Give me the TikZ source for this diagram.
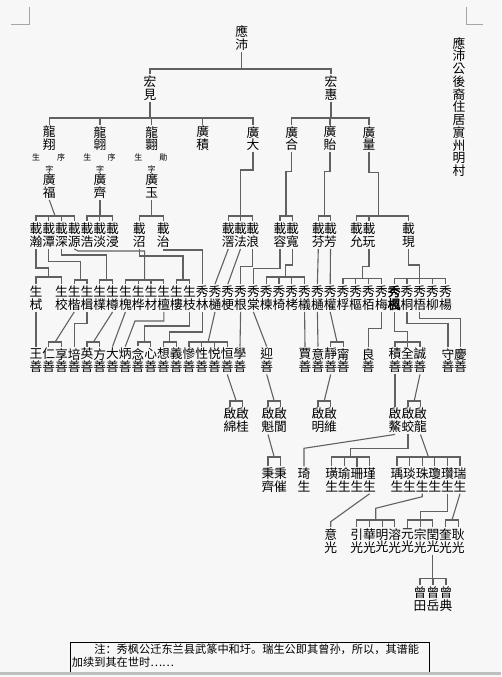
\documentclass[tikz,border=0pt]{standalone}
\usepackage{fontspec}
\newfontfamily\tcfont{Noto Sans CJK TC}
\newfontfamily\tcbold[FakeBold=2.5]{Noto Sans CJK TC}
\newfontfamily\scfont{Noto Sans CJK SC}
\definecolor{paper}{HTML}{F7F7F7}
\tikzset{
  ming/.style={font=\tcfont\fontsize{12.75}{12.75}\selectfont, align=center, inner sep=1.5pt},
  boldname/.style={font=\tcbold\fontsize{12.75}{12.75}\selectfont},
  small/.style={font=\tcfont\fontsize{8}{8}\selectfont, inner sep=0pt},
  link/.style={draw=black!62, line width=1.1pt},
}
\begin{document}
\begin{tikzpicture}[x=1pt,y=-1pt]
  \fill[paper] (0,0) rectangle (501,677);
  \useasboundingbox (0,0) rectangle (501,677);
  % corner marks
  \draw[black!35] (11,24) -- (29.3,24) -- (29.3,6.7);
  \draw[black!35] (483,24) -- (465.7,24) -- (465.7,6.7);
  % side title
  \node[ming] (title) at (459,107) {應\\沛\\公\\後\\裔\\住\\居\\賔\\州\\明\\村};
  % generation 1 and 2
  \node[ming] (yp) at (241.7,38) {應\\沛};
  \node[ming] (hj) at (150,88) {宏\\見};
  \node[ming] (hh) at (331,88) {宏\\惠};
  % generation 3
  \node[ming] (lx)  at (49.3,138.5)  {龍\\翔};
  \node[ming] (la)  at (100,138.5)   {龍\\翶};
  \node[ming] (lb)  at (151.7,138.5) {龍\\翾};
  \node[ming] (gji) at (202.7,138.5) {廣\\積};
  \node[ming] (gda) at (253,138.5)   {廣\\大};
  \node[ming] (ghe) at (291.7,138.5) {廣\\合};
  \node[ming] (gyi) at (330,138.5)   {廣\\貽};
  \node[ming] (gli) at (369,138.5)   {廣\\量};
  \node[small] (lxa) at (36,157.5)    {生};
  \node[small] (lxb) at (61,157.5)    {序};
  \node[small] (laa) at (87.3,157.5)  {生};
  \node[small] (lab) at (111.7,157.5) {序};
  \node[small] (lba) at (138.3,157.5) {生};
  \node[small] (lbb) at (163.3,157.5) {勛};
  \node[small] (zia) at (49.3,169.5)  {字};
  \node[small] (zib) at (100,169.5)   {字};
  \node[small] (zic) at (151.7,169.5) {字};
  \node[ming] (gfu) at (49.3,186)  {廣\\福};
  \node[ming] (gqi) at (100,186)   {廣\\齊};
  \node[ming] (gyu) at (151.7,186) {廣\\玉};
  % generation 4
  \node[ming] (zhan)  at (36,235)    {載\\瀚};
  \node[ming] (ztan)  at (48.75,235) {載\\潭};
  \node[ming] (zshen) at (61.5,235)  {載\\深};
  \node[ming] (zyuan) at (74.25,235) {載\\源};
  \node[ming] (zhao)  at (87,235)    {載\\浩};
  \node[ming] (zdan)  at (99.75,235) {載\\淡};
  \node[ming] (zjin)  at (112.5,235) {載\\浸};
  \node[ming] (zzhao) at (139.3,235) {載\\沼};
  \node[ming] (zzhi)  at (163.3,235) {載\\治};
  \node[ming] (zjiao) at (228.3,235) {載\\滘};
  \node[ming] (zfa)   at (240.5,235) {載\\法};
  \node[ming] (zlang) at (252.7,235) {載\\浪};
  \node[ming] (zrong) at (280,235)   {載\\容};
  \node[ming] (zkuan) at (292.5,235) {載\\寬};
  \node[ming] (zfen)  at (318.3,235) {載\\芬};
  \node[ming] (zfang) at (330.5,235) {載\\芳};
  \node[ming] (zyun)  at (356.5,235) {載\\允};
  \node[ming] (zwan)  at (369,235)   {載\\玩};
  \node[ming] (zxian) at (408.5,235) {載\\現};
  % generation 5
  \node[ming] (xshi)   at (36,298)    {生\\栻};
  \node[ming] (xxiao)  at (61.4,298)  {生\\校};
  \node[ming] (xkai)   at (74.2,298)  {生\\楷};
  \node[ming] (xji)    at (87,298)    {生\\楫};
  \node[ming] (xpu)    at (99.8,298)  {生\\檏};
  \node[ming] (xzun)   at (112.6,298) {生\\樽};
  \node[ming] (xhuai)  at (125.4,298) {生\\槐};
  \node[ming] (xhua)   at (138.2,298) {生\\桦};
  \node[ming] (xcai)   at (151,298)   {生\\材};
  \node[ming] (xtan)   at (163.8,298) {生\\檀};
  \node[ming] (xlou)   at (176.6,298) {生\\樓};
  \node[ming] (xzhi)   at (189.4,298) {生\\枝};
  \node[ming] (xlin)   at (202.2,298) {秀\\林};
  \node[ming] (xtonga) at (215,298)   {秀\\樋};
  \node[ming] (xgeng)  at (227.8,298) {秀\\梗};
  \node[ming] (xgen)   at (240.6,298) {秀\\根};
  \node[ming] (xtang)  at (253.4,298) {秀\\棠};
  \node[ming] (xlian)  at (266.2,298) {秀\\楝};
  \node[ming] (xyi)    at (279,298)   {秀\\椅};
  \node[ming] (xkao)   at (291.8,298) {秀\\栲};
  \node[ming] (xyii)   at (304.6,298) {秀\\檥};
  \node[ming] (xtongb) at (317.4,298) {秀\\樋};
  \node[ming] (xquan)  at (330.2,298) {秀\\權};
  \node[ming] (xfu)    at (343,298)   {秀\\桴};
  \node[ming] (xshu)   at (355.8,298) {秀\\樞};
  \node[ming] (xbai)   at (368.6,298) {秀\\栢};
  \node[ming] (xmei)   at (381.4,298) {秀\\梅};
  \node[ming,boldname] (xfeng) at (394.2,298) {秀\\楓};
  \node[ming] (xtongc) at (407,298)   {秀\\桐};
  \node[ming] (xwu)    at (419.8,298) {秀\\梧};
  \node[ming] (xliu)   at (432.6,298) {秀\\柳};
  \node[ming] (xyang)  at (445.4,298) {秀\\楊};
  % generation 6
  \node[ming] (swang)   at (36,360.5)    {王\\善};
  \node[ming] (sren)    at (48.75,360.5) {仁\\善};
  \node[ming] (sxiang)  at (61.5,360.5)  {享\\善};
  \node[ming] (spei)    at (74.25,360.5) {培\\善};
  \node[ming] (sying)   at (87,360.5)    {英\\善};
  \node[ming] (sfang)   at (99.75,360.5) {方\\善};
  \node[ming] (sda)     at (112.5,360.5) {大\\善};
  \node[ming] (sbing)   at (125.25,360.5){炳\\善};
  \node[ming] (snian)   at (138,360.5)   {念\\善};
  \node[ming] (sxin)    at (150.75,360.5){心\\善};
  \node[ming] (sxiangx) at (163.5,360.5) {想\\善};
  \node[ming] (syi)     at (176.25,360.5){義\\善};
  \node[ming] (scan)    at (189,360.5)   {慘\\善};
  \node[ming] (sxing)   at (201.75,360.5){性\\善};
  \node[ming] (syue)    at (214.5,360.5) {悦\\善};
  \node[ming] (sheng)   at (227.25,360.5){恒\\善};
  \node[ming] (sxue)    at (240,360.5)   {學\\善};
  \node[ming] (sying2)  at (266.7,360.5) {迎\\善};
  \node[ming] (sjia)    at (305,360.5)   {賈\\善};
  \node[ming] (syiy)    at (318,360.5)   {意\\善};
  \node[ming] (sjing)   at (330.7,360.5) {靜\\善};
  \node[ming] (sning)   at (343.3,360.5) {甯\\善};
  \node[ming] (sliang)  at (368.3,360.5) {良\\善};
  \node[ming] (sji)     at (395,360.5)   {積\\善};
  \node[ming] (squan)   at (407.5,360.5) {全\\善};
  \node[ming] (scheng)  at (420,360.5)   {誠\\善};
  \node[ming] (sshou)   at (448,360.5)   {守\\善};
  \node[ming] (sqing)   at (460.5,360.5) {慶\\善};
  % generation 7
  \node[ming] (qmian) at (230,420.5)   {啟\\綿};
  \node[ming] (qgui)  at (242.5,420.5) {啟\\桂};
  \node[ming] (qkui)  at (268,420.5)   {啟\\魁};
  \node[ming] (qlang) at (280.5,420.5) {啟\\閬};
  \node[ming] (qming) at (318,420.5)   {啟\\明};
  \node[ming] (qwei)  at (330.5,420.5) {啟\\維};
  \node[ming] (qao)   at (395,420.5)   {啟\\鰲};
  \node[ming] (qjiao) at (408,420.5)   {啟\\蛟};
  \node[ming] (qlong) at (420.5,420.5) {啟\\龍};
  % generation 8
  \node[ming] (bqia)  at (268,480)   {秉\\齊};
  \node[ming] (bcui)  at (280.5,480) {秉\\催};
  \node[ming] (bqi)   at (304,480)   {琦\\生};
  \node[ming] (bhuang) at (331.7,480) {璜\\生};
  \node[ming] (byu)   at (344.3,480) {瑜\\生};
  \node[ming] (bshan) at (357,480)   {珊\\生};
  \node[ming] (bjin)  at (369.6,480) {瑾\\生};
  \node[ming] (byu2)  at (397,480)   {瑀\\生};
  \node[ming] (byan)  at (409.6,480) {琰\\生};
  \node[ming] (bzhu)  at (422.2,480) {珠\\生};
  \node[ming] (bqiong) at (434.8,480) {瓊\\生};
  \node[ming] (bzan)  at (447.4,480) {瓚\\生};
  \node[ming] (brui)  at (460,480)   {瑞\\生};
  % generation 9
  \node[ming] (kyi)   at (330.7,541) {意\\光};
  \node[ming] (kyin)  at (356.7,541) {引\\光};
  \node[ming] (khua)  at (369.4,541) {華\\光};
  \node[ming] (kming) at (382.1,541) {明\\光};
  \node[ming] (krong) at (394.8,541) {溶\\光};
  \node[ming] (kyuan) at (407.5,541) {元\\光};
  \node[ming] (kzong) at (420.2,541) {宗\\光};
  \node[ming] (krun)  at (432.9,541) {閏\\光};
  \node[ming] (kkui)  at (445.6,541) {奎\\光};
  \node[ming] (kgeng) at (458.3,541) {耿\\光};
  % generation 10
  \node[ming] (ctian) at (420,599) {曾\\田};
  \node[ming] (cyue)  at (433,599) {曾\\岳};
  \node[ming] (cdian) at (446,599) {曾\\典};

  % links, top part
  \draw[link] (yp.south) -- (yp.south |- 0,69);
  \draw[link] (hj.north) |- (hh.north |- 0,69) -- (hh.north);
  \draw[link] (hj.south) -- (hj.south |- 0,118);
  \draw[link] (lx.north) |- (gda.north |- 0,118) -- (gda.north);
  \foreach \c in {la,lb,gji} \draw[link] (\c.north) -- (\c.north |- 0,118);
  \draw[link] (hh.south) -- (hh.south |- 0,118);
  \draw[link] (ghe.north) |- (gli.north |- 0,118) -- (gli.north);
  \draw[link] (gyi.north) -- (gyi.north |- 0,118);
  % links to generation 4
  \draw[link] (gfu.south) -- (55.1,216);
  \draw[link] (zhan.north) |- (zyuan.north |- 0,216) -- (zyuan.north);
  \foreach \c in {ztan,zshen} \draw[link] (\c.north) -- (\c.north |- 0,216);
  \draw[link] (gqi.south) -- (gqi.south |- 0,216);
  \draw[link] (zhao.north) |- (zjin.north |- 0,216) -- (zjin.north);
  \draw[link] (zdan.north) -- (zdan.north |- 0,216);
  \draw[link] (gyu.south) -- (gyu.south |- 0,216);
  \draw[link] (zzhao.north) |- (zzhi.north |- 0,216) -- (zzhi.north);
  \draw[link] (gda.south) -- (gda.south |- 0,170) -| (zfa.north |- 0,216);
  \draw[link] (zjiao.north) |- (zlang.north |- 0,216) -- (zlang.north);
  \draw[link] (zfa.north) -- (zfa.north |- 0,216);
  \draw[link] (ghe.south) |- (286,171.7) -- (286,216);
  \draw[link] (zrong.north) |- (zkuan.north |- 0,216) -- (zkuan.north);
  \draw[link] (gyi.south) |- (324.4,171.7) -- (324.4,216);
  \draw[link] (zfen.north) |- (zfang.north |- 0,216) -- (zfang.north);
  \draw[link] (gli.south) |- (378.3,172.7) -- (378.3,216);
  \draw[link] (zyun.north) |- (zxian.north |- 0,216) -- (zxian.north);
  \draw[link] (zwan.north) -- (zwan.north |- 0,216);
  % links to generation 5
  \draw[link] (zhan.south) |- (48.7,268) -- (48.7,277);
  \draw[link] (xshi.north) |- (xxiao.north |- 0,277) -- (xxiao.north);
  \draw[link] (ztan.south) |- (80.6,261.7) -- (80.6,280);
  \draw[link] (xkai.north) |- (xji.north |- 0,280) -- (xji.north);
  \draw[link] (zshen.south) |- (106.2,255) -- (106.2,280);
  \draw[link] (xpu.north) |- (xzun.north |- 0,280) -- (xzun.north);
  \draw[link] (zyuan.south) -- (78,251) -- (144.6,251) -- (144.6,280);
  \draw[link] (xhuai.north) |- (xtan.north |- 0,280) -- (xtan.north);
  \foreach \c in {xhua,xcai} \draw[link] (\c.north) -- (\c.north |- 0,280);
  \draw[link] (zzhao.south) |- (183,256) -- (183,280);
  \draw[link] (xlou.north) |- (xzhi.north |- 0,280) -- (xzhi.north);
  \draw[link] (zzhi.south) |- (xlin.north |- 0,250) -- (xlin.north);
  \draw[link] (zjiao.south) -- (xtonga.north);
  \draw[link] (zfa.south) -- (xgeng.north);
  \draw[link] (zlang.south) |- (xgen.north |- 0,266.7) -- (xgen.north);
  \draw[link] (zrong.south) |- (xtang.north |- 0,268.3) -- (xtang.north);
  \draw[link] (zkuan.south) |- (285.4,265) -- (285.4,277);
  \draw[link] (xlian.north) |- (xyii.north |- 0,277) -- (xyii.north);
  \foreach \c in {xyi,xkao} \draw[link] (\c.north) -- (\c.north |- 0,277);
  \draw[link] (zfen.south) -- (xtongb.north);
  \draw[link] (zfang.south) -- (xquan.north);
  \draw[link] (zwan.south) |- (362.2,266.7) -- (362.2,278.3);
  \draw[link] (xfu.north) |- (xmei.north |- 0,278.3) -- (xmei.north);
  \foreach \c in {xshu,xbai} \draw[link] (\c.north) -- (\c.north |- 0,278.3);
  \draw[link] (zxian.south) |- (xwu.north |- 0,265) -- (xwu.north);
  \draw[link] (xfeng.north) |- (xyang.north |- 0,278.3) -- (xyang.north);
  \foreach \c in {xtongc,xliu} \draw[link] (\c.north) -- (\c.north |- 0,278.3);
  % links to generation 6
  \draw[link] (xshi.south) -- (swang.north);
  \draw[link] (xkai.south) -- (55.1,342);
  \draw[link] (sren.north) |- (sxiang.north |- 0,342) -- (sxiang.north);
  \draw[link] (xji.south) |- (spei.north |- 0,323.3) -- (spei.north);
  \draw[link] (xzun.south) -- (93.4,342);
  \draw[link] (sying.north) |- (sfang.north |- 0,342) -- (sfang.north);
  \draw[link] (xhuai.south) -- (sda.north);
  \draw[link] (xtan.south) |- (135,321) -- (sbing.north);
  \draw[link] (xzhi.south) |- (144.4,326) -- (144.4,342);
  \draw[link] (snian.north) |- (sxin.north |- 0,342) -- (sxin.north);
  \draw[link] (xlin.south) |- (169.9,332) -- (169.9,342);
  \draw[link] (sxiangx.north) |- (syi.north |- 0,342) -- (syi.north);
  \draw[link] (xtonga.south) -- (208.1,342);
  \draw[link] (scan.north) |- (sheng.north |- 0,342) -- (sheng.north);
  \foreach \c in {sxing,syue} \draw[link] (\c.north) -- (\c.north |- 0,342);
  \draw[link] (xgen.south) -- (sxue.north);
  \draw[link] (xtang.south) -- (sying2.north);
  \draw[link] (xyii.south) -- (sjia.north);
  \draw[link] (xtongb.south) -- (syiy.north);
  \draw[link] (xquan.south) -- (337,342);
  \draw[link] (sjing.north) |- (sning.north |- 0,342) -- (sning.north);
  \draw[link] (xmei.south) |- (sliang.north |- 0,328.3) -- (sliang.north);
  \draw[link] (xfeng.south) |- (squan.north |- 0,331.7) -- (squan.north);
  \draw[link] (sji.north) |- (scheng.north |- 0,342) -- (scheng.north);
  \draw[link] (xtongc.south) |- (sshou.north |- 0,323.3) -- (sshou.north);
  \draw[link] (xwu.south) |- (sqing.north |- 0,318.3) -- (sqing.north);
  % links to generation 7
  \draw[link] (sheng.south) -- (236.2,401);
  \draw[link] (qmian.north) |- (qgui.north |- 0,401) -- (qgui.north);
  \draw[link] (sying2.south) -- (274.2,401);
  \draw[link] (qkui.north) |- (qlang.north |- 0,401) -- (qlang.north);
  \draw[link] (sjing.south) -- (324.2,401);
  \draw[link] (qming.north) |- (qwei.north |- 0,401) -- (qwei.north);
  \draw[link] (sji.south) -- (qao.north);
  \draw[link] (scheng.south) -- (414.2,401);
  \draw[link] (qjiao.north) |- (qlong.north |- 0,401) -- (qlong.north);
  % links to generation 8
  \draw[link] (qkui.south) -- (274.2,457);
  \draw[link] (bqia.north) |- (bcui.north |- 0,457) -- (bcui.north);
  \draw[link] (qao.south) -- (bqi.north |- 0,448.3) -- (bqi.north);
  \draw[link] (qjiao.south) |- (350.6,448.3) -- (350.6,457);
  \draw[link] (bhuang.north) |- (bjin.north |- 0,457) -- (bjin.north);
  \foreach \c in {byu,bshan} \draw[link] (\c.north) -- (\c.north |- 0,457);
  \draw[link] (qlong.south) -- (428.5,457);
  \draw[link] (byu2.north) |- (brui.north |- 0,457) -- (brui.north);
  \foreach \c in {byan,bzhu,bqiong,bzan} \draw[link] (\c.north) -- (\c.north |- 0,457);
  % links to generation 9
  \draw[link] (bjin.south) -- (kyi.north |- 0,521.7) -- (kyi.north);
  \draw[link] (bzhu.south) -- (bzhu.south |- 0,496.7) -- (375.7,508.3) -- (375.7,520);
  \draw[link] (kyin.north) |- (krong.north |- 0,520) -- (krong.north);
  \foreach \c in {khua,kming} \draw[link] (\c.north) -- (\c.north |- 0,520);
  \draw[link] (bzan.south) |- (kzong.north |- 0,511.7) -- (kzong.north);
  \draw[link] (kyuan.north) |- (krun.north |- 0,520) -- (krun.north);
  \draw[link] (brui.south) -- (452,520);
  \draw[link] (kkui.north) |- (kgeng.north |- 0,520) -- (kgeng.north);
  % links to generation 10
  \draw[link] (krun.south) -- (krun.south |- 0,578.3);
  \draw[link] (ctian.north) |- (cdian.north |- 0,578.3) -- (cdian.north);
  \draw[link] (cyue.north) -- (cyue.north |- 0,578.3);

  % note box
  \draw[black, line width=0.8pt] (70,672.5) |- (429.3,642.7) -- (429.3,672.5);
  \node[anchor=north west, inner sep=0pt, align=left,
        font=\scfont\fontsize{11.2}{13.4}\selectfont] (zhu) at (71.7,643.5)
    {\hspace*{2em}注：秀枫公迁东兰县武篆中和圩。瑞生公即其曾孙，所以，其谱能\\加续到其在世时……};
  \fill[black!25] (0,672) rectangle (501,674.5);
\end{tikzpicture}
\end{document}
